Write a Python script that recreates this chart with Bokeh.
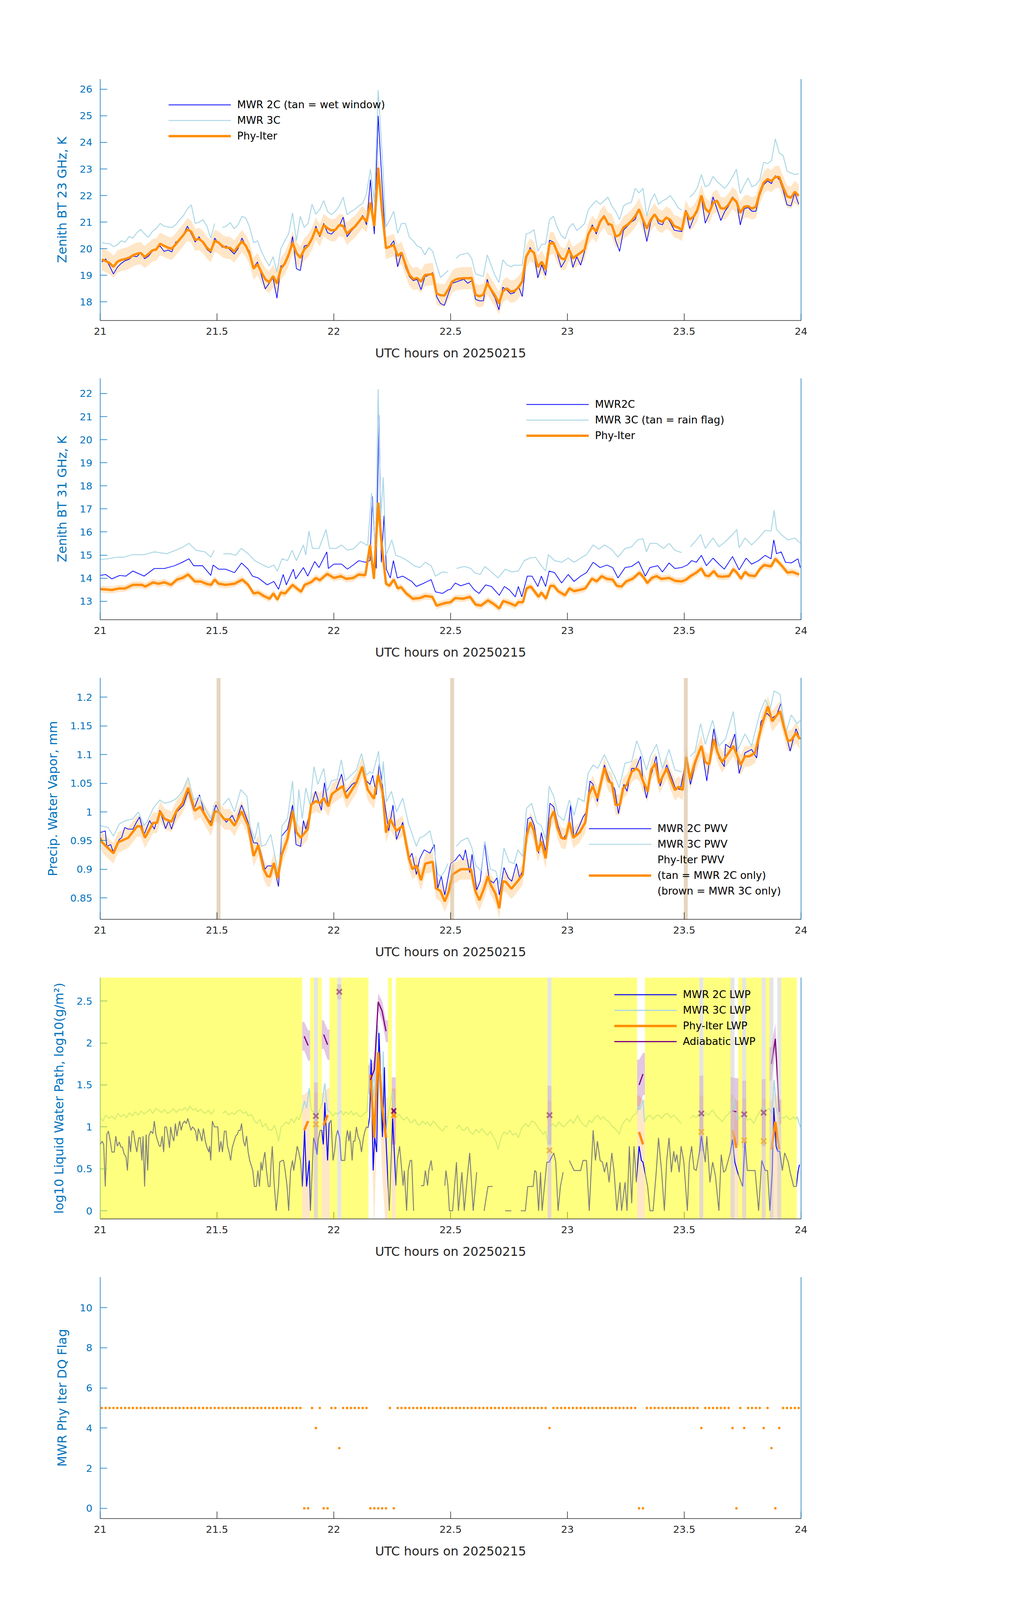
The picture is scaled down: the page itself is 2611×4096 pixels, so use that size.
import numpy as np
from bokeh.plotting import figure
from bokeh.models import (Range1d, LinearAxis, FixedTicker, CustomJSTickFormatter,
                          Legend, LegendItem)
from bokeh.layouts import column
from bokeh.embed import file_html
from bokeh.resources import INLINE

NaN = float("nan")

# ---------------------------------------------------------------- data
XTICKS = [21, 21.5, 22, 22.5, 23, 23.5, 24]
XLABEL = "UTC hours on 20250215"

# 1-minute sample grid (minutes after 21 UTC) used by DQ flag / panel-1 data
DQ_OFFSET_MIN = 0.4
N_MIN = 180

# ---- panel 1 : 23 GHz BT (1-min grid)
P1_PHY = [19.60,19.54,19.46,19.32,19.51,19.58,19.61,19.66,19.75,19.81,
          19.84,19.69,19.80,19.94,19.97,20.19,20.11,20.04,20.00,20.17,
          20.35,20.52,20.73,20.64,20.33,20.37,20.25,20.04,19.91,20.30,
          20.23,20.10,20.04,20.03,19.89,20.09,20.28,20.11,19.80,19.25,
          19.42,19.12,18.85,18.74,18.97,18.69,19.25,19.44,19.78,20.23,
          19.84,19.66,19.97,20.12,20.38,20.76,20.50,20.89,20.77,20.69,
          20.71,20.89,20.86,20.56,20.71,20.83,21.01,21.20,21.02,21.74,
          20.85,23.05,21.40,20.02,20.08,20.14,19.73,19.85,19.41,19.02,
          18.86,18.90,18.76,19.01,19.03,19.05,18.31,18.25,18.24,18.47,
          18.76,18.85,18.88,18.89,18.89,18.90,18.27,18.21,18.27,18.71,
          18.46,18.24,17.94,18.40,18.51,18.39,18.41,18.54,18.77,19.70,
          19.96,19.85,19.31,19.51,19.22,20.19,20.22,19.87,19.64,19.60,
          19.97,19.64,19.75,19.85,19.97,20.56,20.82,20.65,21.02,21.22,
          20.95,20.89,20.46,20.52,20.80,20.90,21.04,21.22,21.48,21.09,
          20.76,21.09,21.29,21.07,21.01,21.17,21.09,20.85,20.80,20.71,
          21.41,21.10,21.21,21.47,22.00,21.51,21.36,21.72,21.81,21.52,
          21.51,21.66,21.91,21.77,21.35,21.58,21.60,21.51,21.58,22.10,
          22.48,22.62,22.54,22.70,22.70,22.31,21.97,21.92,22.14,21.99]
P1_MWR2C = [19.50,19.62,19.35,19.05,19.30,19.45,19.55,19.60,19.72,19.70,
            19.85,19.62,19.72,19.90,20.00,20.10,19.90,19.95,19.88,20.25,
            20.30,20.55,20.85,20.55,20.25,20.45,20.20,19.98,19.85,20.40,
            20.20,20.05,20.10,19.95,19.80,20.00,20.40,20.10,19.90,19.30,
            19.50,19.00,18.49,18.70,18.90,18.14,19.35,19.40,19.70,20.46,
            19.25,19.18,20.10,20.15,20.40,20.85,20.45,20.95,20.60,20.55,
            20.70,20.85,21.19,20.45,20.65,20.80,21.00,21.25,20.90,22.60,
            20.55,25.00,22.40,20.05,20.10,20.30,19.32,19.85,19.30,18.95,
            18.80,18.85,18.46,18.95,19.00,19.10,18.20,17.94,17.87,18.30,
            18.70,18.75,18.80,18.85,18.70,18.80,18.10,18.04,18.04,18.85,
            18.40,18.15,17.70,18.55,18.45,18.30,18.35,18.60,18.20,19.60,
            20.05,19.80,18.90,19.40,19.00,20.32,20.25,19.80,19.30,19.55,
            20.05,19.30,19.70,19.38,19.90,20.60,20.90,20.55,20.95,21.25,
            20.90,20.90,20.30,19.90,20.70,20.85,21.00,21.10,21.50,21.00,
            20.27,21.00,21.30,20.95,20.90,21.20,21.00,20.70,20.67,20.65,
            21.45,20.76,21.15,21.40,21.95,20.96,21.30,21.95,21.50,21.06,
            21.40,21.60,21.95,21.80,20.89,21.50,21.55,21.41,21.41,22.00,
            22.40,22.55,22.45,22.75,22.60,22.20,21.65,21.61,22.10,21.67]
P1_MWR3C = [20.23,20.20,20.19,20.08,20.15,20.30,20.25,20.46,20.40,20.60,
            20.73,20.55,20.43,20.65,20.76,20.95,20.85,20.82,20.80,20.90,
            21.09,21.25,21.50,21.65,20.95,21.00,21.09,20.85,20.40,20.95,
            NaN,20.80,20.85,20.98,20.75,20.90,21.22,21.15,20.80,20.23,
            20.30,19.90,19.60,19.35,19.70,19.12,20.00,20.30,20.56,21.35,
            20.30,21.22,20.80,20.95,21.67,21.30,21.48,21.81,21.40,21.28,
            21.41,21.60,21.94,21.28,21.40,21.48,21.61,21.70,22.07,22.99,
            21.74,25.96,23.58,20.82,21.10,21.41,20.58,20.95,20.95,20.43,
            20.30,20.10,20.04,19.77,20.04,19.90,19.38,18.92,19.05,19.18,
            NaN,19.64,19.77,19.80,19.84,19.64,19.05,19.00,18.96,19.77,
            19.38,19.00,18.73,19.58,19.40,19.32,19.38,19.38,19.38,20.56,
            20.60,20.72,19.91,20.17,20.17,21.09,21.22,20.80,20.50,20.37,
            20.80,20.95,20.69,20.80,20.95,21.48,21.65,21.81,21.67,21.80,
            21.94,21.61,21.40,21.09,21.61,21.70,21.74,22.27,22.10,22.27,
            21.22,21.80,22.07,21.67,21.80,21.87,22.00,21.80,21.54,21.45,
            NaN,21.94,22.07,22.30,22.79,22.33,22.40,22.72,22.53,22.40,
            22.27,22.46,22.70,22.99,22.07,22.40,22.66,22.33,22.40,22.59,
            23.25,23.20,23.31,24.13,23.60,23.51,22.92,22.85,22.79,22.82]
P1_UNC = 0.42

# ---- panel 2 : 31 GHz BT  (minute, value)
P2_PHY = [(0,13.53),(3,13.49),(5,13.56),(6.3,13.55),(8.4,13.71),(10.7,13.71),(11.6,13.64),
          (13.6,13.82),(14.9,13.76),(16.5,13.82),(18.2,13.71),(19.7,13.94),(21.1,14.01),(22.6,14.16),
          (24.3,13.86),(25.8,13.86),(27.2,13.76),(28.5,13.71),(29.4,13.94),(30.4,13.76),(32.2,13.71),
          (34.5,13.76),(36.5,13.94),(38,13.71),(39.4,13.34),(40.6,13.38),(42,13.23),(43.5,13.11),
          (44.5,13.34),(45.5,13.07),(46.4,13.38),(47.5,13.34),(49.4,13.71),(50.7,13.53),(51.6,13.41),
          (52.5,13.71),(54.2,13.83),(55.4,14.01),(56.4,13.91),(58.3,14.19),(60,14.01),(61.8,14.09),
          (63.2,13.97),(65,14.01),(66.4,14.16),(68.1,14.13),(69.3,15.44),(70.3,13.97),(71.4,17.27),
          (72.3,15.44),(73.4,13.76),(74.3,13.67),(75.4,13.94),(76.4,13.56),(77.3,13.61),(78.6,13.34),
          (80.3,13.11),(82.1,13.14),(83.5,13.23),(85.3,13.19),(86.4,12.81),(88.5,12.92),(90,12.96),
          (91.2,13.14),(93.2,13.11),(95,13.19),(96.4,12.86),(97.8,12.81),(99.6,13.04),(101,12.89),
          (102.5,12.69),(103.5,13.01),(105.1,12.92),(106.6,12.81),(107.4,12.96),(108.6,12.96),
          (109.5,13.56),(110.6,13.64),(112.6,13.19),(113.3,13.38),(114.5,13.11),(115.6,13.67),
          (116.5,13.67),(117.6,13.44),(119.4,13.26),(120.5,13.56),(121.7,13.44),(123.1,13.49),
          (124.6,13.56),(126.3,13.98),(127.5,13.86),(128.8,14.09),(130.1,13.97),(131.6,13.94),
          (132.7,13.67),(133.9,13.64),(135.1,13.86),(136.8,13.98),(138.5,14.24),(139.7,14.01),
          (140.5,13.79),(141.7,14.01),(142.9,14.09),(144.1,13.97),(146.1,14.01),(147.6,13.89),
          (149.3,13.86),(150.5,13.94),(151.6,14.09),(153.1,14.24),(154.4,14.42),(155.4,14.12),
          (156.3,14.09),(157.6,14.31),(158.6,14.09),(159.8,14.06),(161.5,14.09),(162.6,14.39),
          (163.5,14.24),(164.6,13.98),(165.6,14.27),(166.7,14.12),(168.2,14.09),(169.4,14.39),
          (170.5,14.57),(172.3,14.51),(173.4,14.84),(174.9,14.57),(176.5,14.24),(177.8,14.27),
          (179.5,14.16)]
P2_MWR2C = [(0,14.12),(1.4,14.16),(3,13.97),(5,14.12),(6.6,14.09),(8.4,14.31),(11.3,14.09),
            (13.9,14.42),(16.5,14.42),(19.1,14.54),(21.1,14.69),(22.8,14.84),(24,14.54),(26.3,14.54),
            (28.4,14.12),(29,14.57),(30.4,14.39),(32.2,14.39),(34.5,14.24),(36.3,14.66),(38,14.39),
            (39.1,14.09),(40.6,14.01),(42.9,13.71),(44.6,13.86),(45.8,13.52),(47,14.16),(47.8,13.71),
            (49.6,14.39),(50.2,13.97),(52.2,14.46),(53.3,14.09),(55.1,14.72),(56.2,14.46),(58.2,15.14),
            (58.6,14.42),(60,14.61),(62,14.61),(63.5,14.39),(65.3,14.61),(66.4,14.76),(68.1,14.69),
            (69.3,14.76),(69.9,17.54),(70.9,14.42),(71.6,21.07),(72.2,14.69),(72.9,16.71),(73.5,14.39),
            (74.5,14.01),(75.3,14.76),(76.3,14.01),(77.7,14.09),(80,13.86),(81.2,13.64),(83.2,13.79),
            (85,13.94),(86.1,13.41),(87.9,13.34),(89.3,13.49),(90,13.52),(91.2,13.79),(92.6,13.67),
            (94.7,13.79),(96.1,13.49),(97.3,13.34),(99,13.71),(100.5,13.64),(102.5,13.26),(103.8,13.64),
            (105.1,13.49),(106.6,13.19),(107.4,13.64),(108.3,13.19),(109.7,14.09),(110.9,14.09),
            (112.4,13.64),(113.3,14.09),(114.4,13.64),(115.3,14.31),(116.7,14.24),(118.5,13.79),
            (120.2,14.16),(121.7,13.86),(123.4,14.09),(124.9,14.24),(126.6,14.69),(128.4,14.46),
            (130.1,14.57),(131.6,14.46),(133,14.01),(134.8,14.46),(136.5,14.51),(138.3,14.72),
            (140,14.09),(141.2,14.46),(143.2,14.54),(144.4,14.27),(146.1,14.66),(147.6,14.42),
            (149.3,14.46),(150.8,14.57),(151.9,14.76),(153.1,14.69),(154.4,14.99),(155.7,14.54),
            (157.4,14.87),(158.9,14.61),(160.3,14.39),(162.4,14.94),(164.1,14.36),(165.9,14.87),
            (167.3,14.61),(169.1,14.76),(170.8,14.99),(172.3,14.84),(173,15.66),(173.7,15.06),
            (174.9,15.14),(176,14.69),(177.5,14.66),(179.2,14.84),(179.8,14.46)]
P2_MWR3C = [(0,14.81),(2,14.84),(4.3,14.91),(6,14.91),(8.4,15.02),(11.3,15.02),(13.9,15.14),
            (17.1,15.06),(19.4,15.21),(21.4,15.36),(22.8,15.51),(24.6,15.21),(26.9,15.14),(28.4,14.91),
            (29.3,15.21),(30.4,NaN),(31.6,15.06),(33.3,15.06),(34.8,14.99),(36.2,15.29),(38,15.06),
            (39.7,14.76),(41.4,14.61),(43.2,14.46),(44.6,14.57),(45.5,14.31),(46.7,14.84),(48.1,14.76),
            (49.3,15.21),(50.4,14.76),(52.2,15.44),(52.8,15.0),(53.6,16.04),(54.5,15.29),(56.2,15.29),
            (58,16.11),(58.9,15.29),(60.6,15.29),(62,15.44),(63.5,15.21),(65.2,15.29),(66.9,15.59),
            (68.7,15.41),(69.7,17.69),(70.7,15.14),(71.4,22.2),(72,16.49),(72.7,18.37),(73.4,14.99),
            (74.9,15.66),(75.9,14.99),(77.3,14.91),(78.9,14.76),(80.6,14.54),(82.1,14.46),(83.5,14.69),
            (85,14.54),(86.1,14.09),(87.9,14.27),(89.3,14.24),(90.4,NaN),(91.5,14.42),(93.5,14.51),
            (95.2,14.42),(96.1,14.24),(97.6,14.16),(98.8,14.51),(100.2,14.31),(102.2,14.01),(104,14.39),
            (105.7,14.27),(107.4,14.31),(108.9,14.76),(110.3,14.87),(111.8,14.91),(113.3,14.54),
            (114.4,14.31),(115.1,15.02),(116.7,14.76),(118.5,14.69),(120.2,14.87),(121.7,14.69),
            (123.4,14.87),(124.9,15.02),(126.6,15.44),(128.1,15.26),(129.5,15.44),(131.3,15.26),
            (133,14.91),(134.8,15.29),(136.5,15.36),(138,15.66),(139.4,15.71),(140.3,15.14),
            (141.2,15.51),(142.9,15.51),(144.7,15.29),(146.1,15.51),(147.6,15.21),(149.3,15.11),
            (150.4,NaN),(151.6,15.36),(152.8,15.59),(154.2,15.89),(155.4,15.29),(157.4,15.74),
            (158.9,15.36),(160.6,15.59),(162.4,15.89),(163.5,16.11),(164.1,15.32),(165.6,15.74),
            (167.3,15.44),(169.1,15.74),(170.8,16.07),(172.3,16.04),(173.1,16.94),(173.7,16.11),
            (174.9,15.89),(176.6,15.66),(178.4,15.74),(179.8,15.51)]
P2_UNC = 0.15

# ---- panel 3 : PWV (minute, value)
P3_PHY = [(0,0.955),(0.5,0.947),(2,0.937),(3.4,0.928),(4.6,0.947),(7.2,0.955),(9.5,0.975),
          (10.4,0.975),(11.5,0.955),(13.6,0.981),(14.6,0.981),(15.4,1.001),(16.5,0.988),(18.3,0.983),
          (19.7,1.003),(21.1,1.015),(22.6,1.042),(24.3,1.002),(25.7,1.009),(27.2,0.991),(28.5,0.976),
          (29.4,1.001),(30.4,1.0),(31.9,0.987),(33.3,0.987),(34.5,0.976),(36.3,1.001),(38,0.976),
          (39.4,0.923),(40.6,0.942),(42,0.90),(42.9,0.888),(43.6,0.887),(44.6,0.911),(45.6,0.884),
          (46.6,0.925),(48.1,0.953),(49.4,1.001),(50.4,0.965),(51.5,0.955),(53.3,0.970),(54.2,1.013),
          (55.4,1.019),(56.4,1.015),(57.4,1.024),(58.6,1.010),(59.5,1.031),(60.6,1.037),(62.3,1.045),
          (63.3,1.024),(64.7,1.039),(65.8,1.051),(67.3,1.079),(68.7,1.039),(70.3,1.023),(71.4,1.064),
          (72.5,1.036),(73.4,0.964),(74.5,0.987),(76.1,0.967),(77.7,0.976),(79.3,0.919),(80.2,0.900),
          (81.2,0.907),(82.4,0.881),(83.5,0.910),(85.4,0.913),(86.2,0.867),(87.4,0.862),(88.5,0.844),
          (89.5,0.861),(90.5,0.891),(92.6,0.90),(95.2,0.90),(96.4,0.861),(97.4,0.846),(98.6,0.867),
          (99.6,0.888),(100.3,0.873),(101.5,0.858),(102.5,0.832),(103.4,0.879),(104.2,0.878),
          (105.6,0.866),(107.2,0.879),(108.5,0.891),(109.5,0.958),(110.5,0.982),(111.4,0.967),
          (112.4,0.931),(113.3,0.949),(114.4,0.919),(115.6,0.988),(116.5,1.001),(117.4,0.973),
          (118.4,0.955),(119.5,0.953),(120.5,0.982),(121.5,0.955),(123.1,0.964),(124.6,0.982),
          (125.5,1.030),(126.5,1.045),(127.7,1.024),(129.5,1.077),(130.5,1.054),(131.4,1.050),
          (132.4,1.012),(133.5,1.013),(134.3,1.041),(135.3,1.048),(136.5,1.070),(137.7,1.076),
          (138.5,1.071),(139.4,1.054),(140.6,1.036),(141.5,1.073),(142.6,1.085),(143.6,1.050),
          (145.5,1.076),(146.5,1.057),(147.6,1.038),(148.6,1.044),(149.6,1.038),(150.5,1.096),
          (151.5,1.057),(152.8,1.087),(154.4,1.115),(155.4,1.087),(156.4,1.083),(157.6,1.127),
          (158.6,1.103),(159.7,1.087),(161.1,1.100),(162.6,1.115),(163.5,1.100),(164.5,1.082),
          (165.6,1.097),(166.7,1.097),(168.2,1.103),(169.8,1.148),(170.5,1.164),(171.5,1.184),
          (172.6,1.158),(173.7,1.168),(174.6,1.176),(175.5,1.151),(176.6,1.124),(177.5,1.125),
          (178.7,1.138),(179.7,1.127)]
P3_MWR2C = [(0,0.964),(1.3,0.967),(1.7,0.940),(2.7,0.943),(3.3,0.931),(4.9,0.952),(5.5,0.955),
            (6.3,0.973),(7.2,0.970),(8.4,0.970),(9.3,0.982),(10.1,0.991),(11.3,0.961),(12.7,0.985),
            (13.9,0.970),(15.3,1.003),(16.8,0.971),(17.6,0.985),(18.3,0.970),(19.7,1.000),(21.4,1.012),
            (22.6,1.036),(24.0,1.003),(25.5,1.030),(26.9,0.994),(28.4,0.982),(29.7,1.012),(31.0,0.994),
            (32.4,0.982),(33.9,0.994),(34.8,0.981),(36.3,1.012),(38.0,0.982),(39.4,0.946),(40.3,0.946),
            (41.1,0.934),(42.3,0.900),(43.0,0.906),(44.6,0.906),(45.8,0.870),(46.6,0.958),(48.1,0.970),
            (49.4,1.012),(50.3,0.943),(51.5,0.940),(52.2,0.985),(52.8,0.970),(54.2,1.009),(55.3,1.036),
            (56.8,1.003),(57.6,1.051),(58.6,1.009),(59.4,1.027),(60.6,1.039),(62.0,1.066),(62.9,1.033),
            (64.7,1.048),(66.1,1.054),(67.3,1.076),(68.4,1.054),(69.3,1.048),(70.0,1.064),(70.9,1.030),
            (71.7,1.085),(72.7,1.036),(73.2,1.009),(74.1,0.967),(75.2,1.012),(76.1,0.952),(77.7,0.982),
            (79.3,0.919),(80.1,0.928),(81.2,0.891),(82.1,0.919),(83.2,0.934),(84.7,0.928),(85.8,0.943),
            (86.7,0.867),(87.6,0.888),(88.5,0.855),(89.5,0.891),(90.0,0.910),(91.2,0.916),(92.3,0.926),
            (93.2,0.916),(93.8,0.934),(94.9,0.894),(95.5,0.926),(96.7,0.864),(97.6,0.879),(98.7,0.946),
            (99.9,0.882),(101.0,0.876),(101.9,0.885),(102.5,0.855),(103.7,0.903),(104.8,0.885),
            (105.7,0.879),(106.9,0.910),(107.7,0.885),(108.6,0.900),(109.8,0.988),(110.6,0.991),
            (111.5,0.976),(112.6,0.928),(113.3,0.964),(114.4,0.931),(115.5,1.015),(116.5,1.009),
            (117.6,0.976),(118.8,0.952),(120.2,0.967),(120.8,1.012),(121.7,0.955),(123.1,0.976),
            (124.0,0.991),(124.9,1.000),(125.8,1.054),(126.6,1.048),(127.7,1.018),(129.5,1.082),
            (130.7,1.057),(132.2,1.039),(133.1,0.997),(134.5,1.048),(135.3,1.036),(136.5,1.076),
            (137.6,1.076),(138.8,1.097),(139.4,1.054),(140.3,1.024),(141.5,1.064),(142.8,1.097),
            (143.8,1.045),(145.5,1.082),(146.7,1.061),(147.7,1.042),(149.0,1.039),(150.5,1.094),
            (151.6,1.048),(152.8,1.082),(154.4,1.115),(155.8,1.054),(156.6,1.097),(157.6,1.145),
            (158.9,1.094),(160.3,1.079),(160.6,1.118),(161.8,1.112),(163.0,1.136),(164.1,1.067),
            (165.6,1.103),(167.3,1.109),(168.6,1.094),(169.7,1.157),(171.3,1.172),(172.4,1.163),
            (173.7,1.169),(174.9,1.190),(175.9,1.142),(177.2,1.106),(178.7,1.145),(179.8,1.127)]
P3_MWR3C = [(0,0.976),(2,0.973),(3.4,0.958),(4.9,0.979),(6.6,0.985),(8.4,0.988),(9.8,1.000),
            (11.3,0.976),(12.2,0.985),(13.6,1.006),(15.3,1.021),(16.5,1.015),(18.2,1.018),(19.7,1.024),
            (21.1,1.036),(22.6,1.060),(24.0,1.021),(25.5,1.027),(26.9,1.006),(28.4,0.988),(29.3,1.012),
            (30.4,NaN),(31.5,1.012),(33.0,1.024),(34.5,1.000),(36.1,1.039),(37.7,1.027),(38.5,0.976),
            (39.7,0.952),(40.6,0.982),(41.4,0.940),(42.5,0.943),(43.8,0.961),(44.9,0.922),(45.8,0.894),
            (46.7,0.976),(48.1,0.988),(49.4,1.054),(50.3,0.958),(51.0,1.039),(51.9,0.988),(52.8,1.042),
            (53.9,1.012),(54.9,1.079),(55.9,1.048),(57.4,1.076),(58.3,1.036),(59.4,1.054),(60.9,1.057),
            (61.9,1.091),(62.9,1.054),(64.4,1.064),(65.8,1.073),(67.1,1.102),(68.4,1.064),(69.3,1.070),
            (70.0,1.067),(71.5,1.106),(72.2,1.036),(72.7,1.088),(73.5,1.018),(74.8,1.036),(76.1,1.000),
            (77.7,1.024),(79.2,0.979),(80.0,0.964),(81.2,0.940),(82.1,0.955),(83.2,0.958),(84.7,0.967),
            (85.8,0.934),(86.7,0.891),(87.6,0.888),(88.5,0.897),(89.3,0.910),(90.4,NaN),(91.5,0.940),
            (92.6,0.949),(94.4,0.955),(95.5,0.937),(96.4,0.907),(97.8,0.897),(98.8,0.949),(100.2,0.900),
            (101.6,0.897),(102.5,0.873),(103.7,0.937),(105.0,0.913),(106.3,0.910),(107.3,0.934),
            (108.5,0.922),(109.5,1.006),(110.8,1.015),(112.1,0.982),(113.3,0.976),(114.4,0.952),
            (115.3,1.045),(116.5,1.027),(117.6,0.994),(119.1,0.985),(120.5,1.021),(121.7,0.994),
            (122.8,1.024),(124.3,1.018),(125.3,1.067),(126.6,1.082),(127.8,1.076),(129.5,1.100),
            (130.7,1.082),(132.2,1.061),(133.3,1.042),(134.8,1.085),(136.5,1.088),(137.8,1.124),
            (139.1,1.100),(140.3,1.073),(141.5,1.100),(142.9,1.118),(144.4,1.076),(146.1,1.109),
            (147.6,1.073),(149.3,1.070),(150.4,NaN),(151.6,1.097),(152.8,1.106),(154.2,1.154),
            (155.4,1.118),(157.3,1.160),(158.9,1.115),(160.6,1.127),(162.6,1.175),(163.8,1.109),
            (165.6,1.136),(167.3,1.115),(169.4,1.172),(170.8,1.196),(172.0,1.178),(173.1,1.211),
            (174.6,1.205),(176.0,1.136),(177.5,1.169),(179.0,1.154),(179.8,1.160)]
P3_UNC = 0.018
P3_TAN_K = [30, 90, 150]          # samples retrieved with MWR 2C only

# ---- panel 4 : log10 LWP
P4_MWR2C = [(0,0.79),(0.5,0.83),(0.9,0.79),(1.3,0.29),(1.7,0.91),(2.1,0.95),(2.6,0.83),(3.0,0.70),
            (3.6,0.70),(4.0,0.89),(4.4,0.77),(4.9,0.82),(5.3,0.76),(5.7,0.76),(6.2,0.67),(6.6,0.65),
            (7.0,0.48),(7.4,0.89),(7.8,0.70),(8.2,0.95),(8.5,0.95),(8.9,0.83),(9.4,0.70),(9.9,0.87),
            (10.3,0.87),(10.7,0.60),(11.0,0.89),(11.4,0.29),(11.8,0.91),(12.2,0.48),(12.5,0.89),
            (13.0,0.95),(13.5,0.92),(13.9,1.07),(14.3,0.91),(14.7,0.84),(15.2,0.77),(15.5,0.77),
            (15.9,0.89),(16.3,0.70),(16.6,1.00),(17.0,1.00),(17.4,0.89),(17.8,0.75),(18.1,1.00),
            (18.5,0.89),(18.9,0.83),(19.3,1.04),(19.7,0.89),(20.1,1.00),(20.4,1.07),(20.8,0.96),
            (21.2,1.04),(21.7,1.07),(22.1,1.04),(22.5,1.10),(22.9,1.03),(23.3,0.96),(23.7,1.00),
            (24.1,0.98),(24.5,0.95),(24.9,0.83),(25.2,0.98),(25.7,0.91),(26.1,0.83),(26.5,0.98),
            (27.0,0.83),(27.4,0.76),(27.9,0.70),(28.1,0.77),(28.4,0.60),(28.8,1.07),(29.3,1.00),
            (29.7,1.00),(30.2,1.00),(30.6,0.70),(31.0,0.83),(31.4,0.70),(31.9,0.95),(32.3,0.95),
            (32.7,0.77),(33.1,0.70),(33.5,0.60),(33.9,0.75),(34.4,0.83),(34.8,0.89),(35.2,0.91),
            (35.6,0.96),(36.0,0.96),(36.3,1.04),(36.8,0.83),(37.2,0.77),(37.6,0.89),(38.0,0.70),
            (38.4,0.60),(38.8,0.54),(39.2,0.48),(39.6,0.29),(40.1,0.29),(40.5,0.48),(40.9,0.29),
            (41.3,0.58),(41.6,0.48),(41.9,0.60),(42.3,0.70),(42.7,0.48),(43.2,0.29),(43.6,0.29),
            (43.9,0.58),(44.2,0.77),(44.6,0.38),(45.2,0.0),(45.8,0.29),(46.1,0.58),(46.7,0.60),
            (47.1,0.60),(47.5,0.48),(48.0,0.29),(48.4,0.0),(48.9,0.48),(49.4,0.60),(49.7,0.48),
            (50.1,0.60),(50.6,0.77),(51.0,0.70),(51.5,0.58),(51.9,0.29),(52.5,0.96),(53.0,0.29),
            (53.7,0.60),(54.0,0.0),(54.8,0.87),(55.3,0.79),(55.7,0.67),(56.0,0.85),(56.5,0.96),
            (56.9,0.96),(57.3,0.79),(57.7,1.29),(58.4,0.60),(58.8,1.04),(59.3,1.08),(59.8,0.60),
            (60.2,0.71),(60.6,0.89),(61.0,0.96),(61.5,0.87),(61.9,0.60),(62.3,0.60),(62.8,0.60),
            (63.2,0.87),(63.5,0.96),(63.9,0.83),(64.2,0.95),(64.7,0.60),(65.0,0.83),(65.4,0.83),
            (65.8,1.00),(66.2,0.89),(66.7,0.83),(67.1,0.70),(67.6,0.87),(68.0,0.95),(68.4,1.00),
            (68.8,0.99),(69.2,1.12),(69.6,1.80),(70.1,0.48),(70.5,0.88),(71.0,0.70),(71.6,2.12),
            (72.1,1.50),(72.5,0.88),(73.0,1.71),(73.4,0.85),(74.25,0.0),(75.1,1.10),(75.96,0.30),
            (76.3,0.60),(76.9,0.77),(77.8,0.30),(78.1,0.48),(78.7,0.0),(79.1,0.48),(79.6,0.60),
            (80.0,0.60),(80.5,0.0),(81.4,NaN),(82.4,0.30),(83.1,0.30),(83.5,0.48),(84.1,0.30),
            (84.4,0.48),(85.0,0.60),(85.3,0.48),(86.9,NaN),(88.5,0.30),(88.8,0.48),(89.3,0.30),
            (89.7,0.0),(90.5,0.0),(91.5,0.58),(92.0,0.0),(92.9,0.46),(93.5,0.0),(94.4,0.46),(94.9,0.69),
            (95.8,0.0),(96.7,0.46),(97.6,NaN),(98.6,0.0),(99.6,0.29),(100.8,0.29),(102.4,NaN),
            (104.0,0.0),(105.6,0.0),(106.8,NaN),(108.0,0.0),(109.2,0.0),(109.8,0.29),(111.2,0.29),
            (111.6,0.48),(112.0,0.46),(112.6,0.0),(113.1,0.46),(113.5,0.0),(114.7,0.58),(115.3,0.58),
            (116.5,0.69),(117.0,0.58),(117.6,0.0),(118.2,0.29),(118.9,0.46),(119.7,NaN),(120.5,0.60),
            (121.7,0.48),(123.4,0.48),(124.0,0.60),(124.9,0.60),(125.6,0.0),(126.6,0.96),(127.2,0.60),
            (127.7,0.83),(128.4,0.60),(129.0,0.58),(129.5,0.46),(130.1,0.58),(130.7,0.34),(131.4,0.69),
            (132.0,0.46),(132.7,0.0),(133.5,0.34),(133.9,0.0),(134.8,0.34),(135.3,0.0),(135.9,0.77),
            (136.5,0.09),(137.1,0.77),(137.7,0.34),(138.4,0.77),(139.0,0.60),(139.4,0.58),(139.9,0.46),
            (140.6,0.29),(141.2,0.0),(142.0,0.0),(142.8,0.46),(143.4,0.87),(144.2,0.46),(144.9,0.0),
            (145.5,0.60),(146.1,0.87),(146.7,0.46),(147.3,0.71),(147.7,0.58),(148.1,0.67),(148.7,0.46),
            (149.2,0.77),(149.9,0.58),(150.8,0.0),(151.3,0.58),(151.9,0.77),(152.5,0.50),(153.1,0.48),
            (153.8,0.67),(154.4,0.89),(155.0,0.71),(155.4,0.58),(155.8,0.89),(156.6,0.34),(157.3,0.58),
            (158.0,0.42),(158.9,0.0),(159.5,0.67),(160.1,0.46),(160.6,0.48),(161.8,0.69),(162.4,0.85),
            (163.0,0.58),(163.7,0.46),(165.0,0.29),(165.6,0.83),(166.2,0.48),(167.0,0.48),(168.2,0.48),
            (169.1,0.0),(169.9,0.60),(170.8,0.48),(171.4,0.48),(172.0,0.0),(172.6,0.46),(173.0,1.23),
            (173.6,0.77),(174.0,0.71),(174.5,0.71),(175.2,0.48),(175.8,0.69),(176.7,0.58),(177.2,0.46),
            (178.1,0.29),(178.8,0.29),(179.2,0.46),(179.6,0.55)]
P4_MWR3C = [(0,1.11),(0.7,1.07),(1.4,1.14),(2.2,1.10),(3,1.13),(3.8,1.09),(4.5,1.16),(5.3,1.12),
            (6,1.15),(6.8,1.11),(7.5,1.17),(8.3,1.13),(9,1.18),(9.8,1.14),(10.5,1.19),(11.3,1.15),
            (12,1.18),(12.8,1.21),(13.5,1.16),(14.3,1.22),(15,1.20),(15.8,1.17),(16.5,1.21),(17.3,1.16),
            (18,1.18),(18.8,1.22),(19.5,1.17),(20.3,1.21),(21,1.20),(21.8,1.23),(22.5,1.19),(23,1.25),
            (23.8,1.20),(24.5,1.22),(25,1.18),(25.8,1.21),(26.5,1.17),(27,1.16),(27.8,1.20),(28.5,1.15),
            (29,1.18),(29.4,1.21),(30.4,NaN),(31.5,1.16),(32.2,1.19),(33,1.14),(33.8,1.17),(34.5,1.15),
            (35.3,1.19),(36,1.20),(36.8,1.16),(37.5,1.18),(38,1.13),(38.8,1.15),(39.5,1.08),(40.2,1.04),
            (41,1.09),(41.7,1.00),(42.5,1.04),(43.2,0.97),(44,0.96),(44.8,1.02),(45.5,0.90),(45.8,0.83),
            (46.5,1.00),(47,1.02),(47.8,1.06),(48.5,1.03),(49,1.10),(49.8,1.05),(50.5,1.12),(51,1.08),
            (51.6,1.15),(52.5,1.31),(53,1.22),(53.7,1.46),(54.2,1.20),(55,1.17),(55.8,1.14),(56.5,1.22),
            (57,1.29),(57.7,1.52),(58.3,1.20),(59,1.18),(59.8,1.13),(60.5,1.17),(61,1.15),(61.8,1.19),
            (62.5,1.14),(63,1.18),(63.8,1.15),(64.5,1.19),(65,1.14),(65.8,1.17),(66.5,1.13),(67,1.12),
            (67.8,1.16),(68.5,1.18),(69.4,1.82),(70.3,1.35),(71.3,2.21),(71.7,1.82),(72.2,0.95),
            (72.7,1.90),(73.2,0.94),(74,1.15),(75,1.42),(75.6,1.20),(76,1.12),(76.8,1.15),(77.5,1.10),
            (78,1.08),(78.8,1.12),(79.5,1.06),(80,1.05),(80.8,1.09),(81.5,1.03),(82,1.02),(82.8,1.07),
            (83.5,1.03),(84,1.06),(84.8,1.01),(85.5,1.07),(86,1.05),(86.8,1.00),(87.5,0.97),(88,0.95),
            (88.8,1.01),(89.3,1.00),(90.4,NaN),(91.5,0.98),(92.2,1.02),(93,0.96),(93.5,0.96),(94.3,1.00),
            (95,0.94),(95.8,0.91),(96.5,0.97),(97.3,0.93),(98,0.98),(98.7,0.94),(99.5,0.90),(100.2,0.95),
            (101,0.88),(101.7,0.82),(102.2,0.73),(103,0.88),(103.8,0.94),(104.5,0.91),(105.2,0.96),
            (106,0.90),(106.7,0.93),(107.4,0.87),(108.2,0.98),(109.2,1.04),(110,1.00),(110.8,1.07),
            (111.5,1.06),(112.2,1.01),(113,0.96),(113.8,0.91),(114.4,0.95),(115,0.79),(115.6,0.98),
            (116.2,1.04),(117,1.00),(117.8,1.06),(118.5,1.02),(119.1,1.00),(120,1.05),(120.8,1.09),
            (121.5,1.04),(122.2,1.10),(122.6,1.14),(123.3,1.07),(124,1.03),(124.9,1.00),(125.6,1.08),
            (126.3,1.05),(127,1.11),(127.8,1.14),(128.5,1.09),(129.2,1.12),(130,1.08),(130.7,1.06),
            (131.4,1.01),(132.2,0.98),(132.8,0.95),(133.3,0.91),(134,1.02),(134.7,1.07),(135.3,1.10),
            (136,1.06),(136.8,1.13),(137.7,1.16),(138.2,1.25),(138.7,1.21),(139.4,1.32),(139.8,1.06),
            (140.5,1.12),(141.2,1.14),(142,1.09),(142.7,1.13),(143.5,1.14),(144.2,1.10),(145,1.15),
            (145.8,1.16),(146.5,1.11),(147.3,1.14),(148.1,1.10),(148.8,1.06),(149.3,1.04),(150.4,NaN),
            (151.6,1.10),(152.3,1.14),(153,1.11),(154,1.16),(154.8,1.12),(155.5,1.17),(156.3,1.14),
            (157,1.19),(157.4,1.20),(158.2,1.13),(159,1.10),(159.8,1.06),(160.5,1.12),(161.3,1.15),
            (162,1.20),(162.7,1.35),(163.3,1.16),(163.8,1.08),(164.5,1.13),(165.6,1.12),(166.3,1.08),
            (167,1.10),(167.9,1.04),(168.6,1.12),(169.4,1.18),(170.2,1.25),(171,1.19),(171.8,1.22),
            (172.6,1.16),(173.1,1.56),(173.6,1.24),(174,1.16),(174.8,1.12),(175.5,1.10),(176.3,1.13),
            (177.2,1.08),(178,1.12),(178.6,1.09),(179,1.12),(179.8,1.00)]
# retrievals only exist at samples whose DQ flag is not 5
P4_K       = [52,   53,   55,   57,   58,   61,   69,   70,   71,   72,   73,   75,
              115,  138,  139,  154,  162,  163,  165,  170,  172,  173,  174]
P4_PHY     = [0.96, 1.07, 1.03, 1.02, 1.14, NaN,  1.62, 0.87, 1.89, 1.25, 0.87, 1.14,
              0.72, 0.94, 0.79, 0.94, 0.96, 0.75, 0.84, 0.83, 0.73, 1.06, 0.73]
P4_ADI     = [2.08, 1.97, 1.13, 2.10, 1.98, 2.61, 1.56, 1.68, 2.49, 2.38, 2.14, 1.19,
              1.14, 1.50, 1.63, 1.16, 1.19, 1.18, 1.15, 1.17, 1.75, 2.05, 1.18]
P4_ADI_UNC = [0.17, 0.18, 0.40, 0.17, 0.18, 0.09, 0.17, 0.12, 0.10, 0.12, 0.13, 0.40,
              0.35, 0.30, 0.25, 0.45, 0.40, 0.40, 0.40, 0.40, 0.20, 0.18, 0.15]
P4_PHY_UNC_GM2 = 15.0      # Phy-Iter LWP 1-sigma, g/m2
P4_PHY_FLOOR = -0.25

# ---- panel 5 : DQ flag, one per minute
DQ_FLAG = [5,5,5,5,5,5,5,5,5,5, 5,5,5,5,5,5,5,5,5,5, 5,5,5,5,5,5,5,5,5,5,
           5,5,5,5,5,5,5,5,5,5, 5,5,5,5,5,5,5,5,5,5, 5,5,0,0,5,4,5,0,0,5,
           5,3,5,5,5,5,5,5,5,0, 0,0,0,0,5,0,5,5,5,5, 5,5,5,5,5,5,5,5,5,5,
           5,5,5,5,5,5,5,5,5,5, 5,5,5,5,5,5,5,5,5,5, 5,5,5,5,5,4,5,5,5,5,
           5,5,5,5,5,5,5,5,5,5, 5,5,5,5,5,5,5,5,0,0, 5,5,5,5,5,5,5,5,5,5,
           5,5,5,5,4,5,5,5,5,5, 5,5,4,0,5,4,5,5,5,5, 4,5,3,0,4,5,5,5,5,5]

# ---------------------------------------------------------------- style
FONT = "DejaVu Sans"
AXBLUE = "#0072BD"
DARK = "#262626"
BLUE = "#0000FF"
LBLUE = "#ADD8E6"
ORANGE = "#FF8C00"
PURPLE = "#800080"
TAN = "#D2B48C"
FW, FH = 1794, 618
TICK_FS = "25.5px"
LABEL_FS = "32px"
LEG_FS = "26.4px"
BORDER_LEFT = 256

def hours(m):
    return 21.0 + np.asarray(m, dtype=float) / 60.0

DQ_MIN = np.arange(N_MIN) + DQ_OFFSET_MIN
HALF = 0.5

def pairs(lst):
    a = np.array(lst, dtype=float)
    return hours(a[:, 0]), a[:, 1]


def make_panel(ylabel, yr, yticks, top, left_col=AXBLUE, xtick_col=DARK):
    p = figure(frame_width=FW, frame_height=FH, x_range=Range1d(21, 24),
               y_range=Range1d(*yr), output_backend="svg", toolbar_location=None,
               min_border_left=BORDER_LEFT, min_border_right=40, min_border_top=top,
               min_border_bottom=110, outline_line_color=None,
               background_fill_color="white", border_fill_color="white")
    p.xgrid.visible = False
    p.ygrid.visible = False
    xa = p.xaxis[0]
    xa.ticker = FixedTicker(ticks=XTICKS, minor_ticks=[])
    xa.formatter = CustomJSTickFormatter(code="return tick.toString();")
    xa.axis_label = XLABEL
    xa.axis_line_color = DARK
    xa.axis_line_width = 1.5
    xa.major_tick_in = 18
    xa.major_tick_out = 0
    xa.major_tick_line_color = xtick_col
    xa.major_tick_line_width = 1.5
    xa.minor_tick_line_color = None
    xa.major_label_text_font = FONT
    xa.major_label_text_font_size = TICK_FS
    xa.major_label_text_color = DARK
    xa.major_label_standoff = 18
    xa.axis_label_text_font = FONT
    xa.axis_label_text_font_size = LABEL_FS
    xa.axis_label_text_font_style = "normal"
    xa.axis_label_text_color = DARK
    xa.axis_label_standoff = 25

    ya = p.yaxis[0]
    ya.ticker = FixedTicker(ticks=yticks, minor_ticks=[])
    ya.formatter = CustomJSTickFormatter(code="return tick.toString();")
    ya.axis_label = ylabel
    ya.axis_line_color = left_col
    ya.axis_line_width = 1.5
    ya.major_tick_in = 18
    ya.major_tick_out = 0
    ya.major_tick_line_color = left_col
    ya.major_tick_line_width = 1.5
    ya.minor_tick_line_color = None
    ya.major_label_text_font = FONT
    ya.major_label_text_font_size = TICK_FS
    ya.major_label_text_color = AXBLUE
    ya.major_label_standoff = 20
    ya.axis_label_text_font = FONT
    ya.axis_label_text_font_size = LABEL_FS
    ya.axis_label_text_font_style = "normal"
    ya.axis_label_text_color = AXBLUE
    ya.axis_label_standoff = 23

    ra = LinearAxis(ticker=FixedTicker(ticks=[], minor_ticks=[]),
                    axis_line_color=AXBLUE, axis_line_width=1.5,
                    major_tick_line_color=None, minor_tick_line_color=None,
                    major_label_text_font_size="0px")
    p.add_layout(ra, "right")
    return p


def add_legend(p, items, vx, vy):
    leg = Legend(items=[LegendItem(label=l, renderers=[r]) for l, r in items],
                 location=(vx, vy), orientation="vertical", padding=0, margin=0,
                 spacing=9, glyph_width=160, glyph_height=30, label_height=30,
                 label_standoff=16, label_text_font=FONT, label_text_font_size=LEG_FS,
                 label_text_color="black", background_fill_alpha=0, border_line_alpha=0,
                 level="overlay")
    p.add_layout(leg)


def runs(mask):
    out, start = [], None
    for i, m in enumerate(mask):
        if m and start is None:
            start = i
        if (not m) and start is not None:
            out.append((start, i - 1))
            start = None
    if start is not None:
        out.append((start, len(mask) - 1))
    return out


def vbands(p, ks, yr, color, alpha):
    ks = list(ks)
    if not ks:
        return
    mask = np.zeros(N_MIN, bool)
    mask[ks] = True
    rr = runs(mask)
    left = [hours(DQ_MIN[s] - HALF) for s, e in rr]
    right = [hours(DQ_MIN[e] + HALF) for s, e in rr]
    p.quad(left=left, right=right, bottom=yr[0], top=yr[1],
           fill_color=color, fill_alpha=alpha, line_color=None)

# ---------------------------------------------------------------- panel 1
YR1 = (17.3, 26.38)
p1 = make_panel("Zenith BT 23 GHz, K", YR1, list(range(18, 27)), 202)
x1 = hours(DQ_MIN)
phy1 = np.array(P1_PHY)
p1.varea(x=x1, y1=phy1 - P1_UNC, y2=phy1 + P1_UNC, fill_color=ORANGE, fill_alpha=0.22)
r1b = p1.line(x1, np.array(P1_MWR2C), line_color=BLUE, line_width=1.8)
r1l = p1.line(x1, np.array(P1_MWR3C), line_color=LBLUE, line_width=2.5)
r1o = p1.line(x1, phy1, line_color=ORANGE, line_width=6)
add_legend(p1, [("MWR 2C (tan = wet window)", r1b), ("MWR 3C", r1l), ("Phy-Iter", r1o)], 175, 457)

# ---------------------------------------------------------------- panel 2
YR2 = (12.2, 22.66)
p2 = make_panel("Zenith BT 31 GHz, K", YR2, list(range(13, 23)), 38)
xo, yo = pairs(P2_PHY)
p2.varea(x=xo, y1=yo - P2_UNC, y2=yo + P2_UNC, fill_color=ORANGE, fill_alpha=0.22)
xb, yb = pairs(P2_MWR2C)
xl, yl = pairs(P2_MWR3C)
r2b = p2.line(xb, yb, line_color=BLUE, line_width=1.8)
r2l = p2.line(xl, yl, line_color=LBLUE, line_width=2.5)
r2o = p2.line(xo, yo, line_color=ORANGE, line_width=6)
add_legend(p2, [("MWR2C", r2b), ("MWR 3C (tan = rain flag)", r2l), ("Phy-Iter", r2o)], 1091, 456)

# ---------------------------------------------------------------- panel 3
YR3 = (0.8127, 1.2337)
p3 = make_panel("Precip. Water Vapor, mm", YR3,
                [0.85, 0.9, 0.95, 1.0, 1.05, 1.1, 1.15, 1.2], 39)
xo, yo = pairs(P3_PHY)
p3.varea(x=xo, y1=yo - P3_UNC, y2=yo + P3_UNC, fill_color=ORANGE, fill_alpha=0.22)
xb, yb = pairs(P3_MWR2C)
xl, yl = pairs(P3_MWR3C)
r3b = p3.line(xb, yb, line_color=BLUE, line_width=1.8)
r3l = p3.line(xl, yl, line_color=LBLUE, line_width=2.5)
r3o = p3.line(xo, yo, line_color=ORANGE, line_width=6)
vbands(p3, P3_TAN_K, YR3, TAN, 0.55)
d3 = p3.line([NaN], [NaN], line_alpha=0)
add_legend(p3, [("MWR 2C PWV", r3b), ("MWR 3C PWV", r3l), ("Phy-Iter PWV", d3),
                ("(tan = MWR 2C only)", r3o), ("(brown = MWR 3C only)", d3)], 1251, 57)

# ---------------------------------------------------------------- panel 4
YR4 = (-0.097, 2.78)
p4 = make_panel("log10 Liquid Water Path, log10(g/m²)", YR4, [0, 0.5, 1, 1.5, 2, 2.5], 39,
                left_col="#80B95F", xtick_col="#939313")
k4 = np.array(P4_K)
phy4 = np.array(P4_PHY)
adi4 = np.array(P4_ADI)
adu4 = np.array(P4_ADI_UNC)
groups = np.split(np.arange(len(k4)), np.where(np.diff(k4) != 1)[0] + 1)

lin = 10.0 ** phy4
phy_hi = np.log10(lin + P4_PHY_UNC_GM2)
lo_lin = lin - P4_PHY_UNC_GM2
phy_lo = np.where(lo_lin > 10 ** P4_PHY_FLOOR, np.log10(np.clip(lo_lin, 1e-9, None)), P4_PHY_FLOOR)

def ext(a):
    return np.concatenate([[a[0]], a, [a[-1]]])

# uncertainty bands
for g in groups:
    tm = DQ_MIN[k4[g]]
    xs = hours(np.concatenate([[tm[0] - HALF], tm, [tm[-1] + HALF]]))
    if not np.all(np.isnan(phy4[g])):
        p4.varea(x=xs, y1=ext(phy_lo[g]), y2=ext(phy_hi[g]),
                 fill_color=ORANGE, fill_alpha=0.22)
    p4.varea(x=xs, y1=ext(adi4[g] - adu4[g]), y2=ext(adi4[g] + adu4[g]),
             fill_color=PURPLE, fill_alpha=0.22)

xl, yl = pairs(P4_MWR3C)
xb, yb = pairs(P4_MWR2C)
r4l = p4.line(xl, yl, line_color=LBLUE, line_width=2.8)
r4b = p4.line(xb, yb, line_color=BLUE, line_width=2.4)
r4o = r4p = None
iso = []
for g in groups:
    if len(g) == 1:
        iso.append(g[0])
        continue
    xs = hours(DQ_MIN[k4[g]])
    ro = p4.line(xs, phy4[g], line_color=ORANGE, line_width=6)
    rp = p4.line(xs, adi4[g], line_color=PURPLE, line_width=3)
    r4o = r4o or ro
    r4p = r4p or rp
iso = np.array(iso)
xi = hours(DQ_MIN[k4[iso]])
p4.scatter(xi, phy4[iso], marker="x", size=19, line_width=4.5, line_color=ORANGE)
p4.scatter(xi, adi4[iso], marker="x", size=19, line_width=4.5, line_color=PURPLE)

flags = np.array(DQ_FLAG)
yellow_k = [k for k in range(N_MIN - 1) if flags[k] == 5]
gray_k = [k for k in range(N_MIN) if flags[k] in (3, 4)]
vbands(p4, yellow_k, YR4, "#FFFF00", 0.5)
vbands(p4, gray_k, YR4, "#CCCCCC", 0.5)
add_legend(p4, [("MWR 2C LWP", r4b), ("MWR 3C LWP", r4l), ("Phy-Iter LWP", r4o),
                ("Adiabatic LWP", r4p)], 1316, 439)

# ---------------------------------------------------------------- panel 5
YR5 = (-0.51, 11.52)
p5 = make_panel("MWR Phy Iter DQ Flag", YR5, [0, 2, 4, 6, 8, 10], 39)
p5.scatter(hours(DQ_MIN), flags, marker="circle", size=5.5, fill_color=ORANGE,
           line_color=ORANGE)

layout = column(p1, p2, p3, p4, p5, spacing=0)
open("out.html", "w").write(file_html(layout, INLINE))
